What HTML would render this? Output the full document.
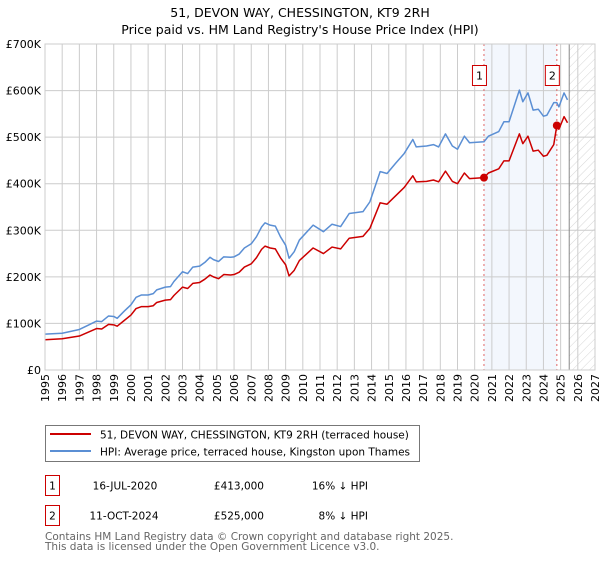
<!DOCTYPE html>
<html><head><meta charset="utf-8"><style>
body{margin:0;background:#fff;}
svg text{font-family:"DejaVu Sans","Liberation Sans",sans-serif;}
</style></head><body>
<svg id="chart" width="600" height="560" viewBox="0 0 600 560" xmlns="http://www.w3.org/2000/svg">
<defs>
<pattern id="hatch" width="6" height="6" patternUnits="userSpaceOnUse" patternTransform="rotate(45)">
<line x1="0" y1="0" x2="0" y2="6" stroke="#ccc" stroke-width="0.8"/>
</pattern>
</defs>
<text x="300" y="17" text-anchor="middle" font-size="12.5" fill="#000">51, DEVON WAY, CHESSINGTON, KT9 2RH</text>
<text x="300" y="34" text-anchor="middle" font-size="12.5" fill="#000">Price paid vs. HM Land Registry's House Price Index (HPI)</text>
<g id="plot"></g>
<g>
<rect x="45.5" y="425.5" width="374" height="36" fill="#fff" stroke="#777" stroke-width="1"/>
<line x1="50" y1="434" x2="91" y2="434" stroke="#cc0000" stroke-width="2"/>
<text x="100" y="438.5" font-size="10.5">51, DEVON WAY, CHESSINGTON, KT9 2RH (terraced house)</text>
<line x1="50" y1="451" x2="91" y2="451" stroke="#5b8fd4" stroke-width="2"/>
<text x="100" y="455.5" font-size="10.5">HPI: Average price, terraced house, Kingston upon Thames</text>
</g>
<g font-size="10.5">
<rect x="45.5" y="475.5" width="14" height="20" fill="#fff" stroke="#cc0000"/>
<text x="52.5" y="489.5" text-anchor="middle">1</text>
<text x="125" y="489.5" text-anchor="middle">16-JUL-2020</text>
<text x="264" y="489.5" text-anchor="end">£413,000</text>
<text x="368" y="489.5" text-anchor="end">16% ↓ HPI</text>
<rect x="45.5" y="505.5" width="14" height="20" fill="#fff" stroke="#cc0000"/>
<text x="52.5" y="519.5" text-anchor="middle">2</text>
<text x="124" y="519.5" text-anchor="middle">11-OCT-2024</text>
<text x="264" y="519.5" text-anchor="end">£525,000</text>
<text x="368" y="519.5" text-anchor="end">8% ↓ HPI</text>
</g>
<text x="45" y="540" font-size="10.5" fill="#666">Contains HM Land Registry data © Crown copyright and database right 2025.</text>
<text x="45" y="550" font-size="10.5" fill="#666">This data is licensed under the Open Government Licence v3.0.</text>
</svg>
<script>
const hpiYears=[1995.0,1996.0,1997.0,1997.5,1998.0,1998.3,1998.7,1999.0,1999.2,1999.6,2000.0,2000.3,2000.6,2001.0,2001.3,2001.5,2002.0,2002.3,2002.5,2003.0,2003.3,2003.6,2004.0,2004.3,2004.6,2004.8,2005.1,2005.4,2005.8,2006.0,2006.3,2006.6,2007.0,2007.3,2007.6,2007.8,2008.1,2008.4,2008.7,2009.0,2009.2,2009.5,2009.8,2010.6,2011.2,2011.7,2012.2,2012.7,2013.5,2013.9,2014.5,2014.9,2015.4,2015.9,2016.4,2016.6,2017.2,2017.6,2017.9,2018.3,2018.7,2019.0,2019.4,2019.7,2020.54,2020.8,2021.4,2021.7,2022.0,2022.6,2022.8,2023.1,2023.4,2023.7,2024.0,2024.2,2024.6,2024.78,2024.9,2025.2,2025.4];
const hpiValues=[77,79,87,96,105,104,116,115,111,126,140,156,161,161,164,172,178,179,190,211,207,221,223,231,242,237,233,243,242,243,249,262,271,286,307,316,311,309,286,268,240,254,279,311,297,313,308,336,340,361,426,422,444,465,495,479,481,484,479,507,481,474,502,488,490,502,512,533,533,601,576,595,558,560,545,547,574,574,565,595,580];
const priceValues=[65,67,73,81,89,88,98,97,94,106,118,132,136,136,138,145,150,151,160,178,175,186,188,195,204,200,196,205,204,205,210,221,228,241,259,266,262,260,241,226,202,214,235,262,250,264,260,283,287,304,359,356,374,392,417,404,405,408,404,427,405,400,423,411,413,423,432,449,449,507,486,502,470,472,459,461,484,525,517,544,531];
const saleYears=[2020.54,2024.78];
const saleValues=[413,525];
const saleLabels=["1","2"];
const yTicks=[0,100,200,300,400,500,600,700];
const yTickLabels=["£0","£100K","£200K","£300K","£400K","£500K","£600K","£700K"];
const xTicks=[1995,1996,1997,1998,1999,2000,2001,2002,2003,2004,2005,2006,2007,2008,2009,2010,2011,2012,2013,2014,2015,2016,2017,2018,2019,2020,2021,2022,2023,2024,2025,2026,2027];
const forecastStart=2025.5;

const X0=45,X1=595,Y0=370,Y1=44;
const xs=y=>X0+(y-1995)/(2027-1995)*(X1-X0);
const ys=v=>Y0-v/700*(Y0-Y1);
const NS="http://www.w3.org/2000/svg";
const plot=document.getElementById('plot');
function mk(tag,attrs,parent){const e=document.createElementNS(NS,tag);for(const k in attrs)e.setAttribute(k,attrs[k]);(parent||plot).appendChild(e);return e;}

const bg=mk('rect',{x:X0,y:Y1,width:X1-X0,height:Y0-Y1,fill:'#fff'});


const shade=mk('rect',{x:xs(saleYears[0]),y:Y1,width:xs(saleYears[1])-xs(saleYears[0]),height:Y0-Y1,fill:'#f3f7fd'});


const hatch=mk('rect',{x:xs(forecastStart),y:Y1,width:X1-xs(forecastStart),height:Y0-Y1,fill:'url(#hatch)'});



xTicks.forEach(t=>{
  const g=mk('line',{x1:xs(t),x2:xs(t),y1:Y1,y2:Y0,stroke:'#ccc','stroke-width':1});
  
  
  const tx=mk('text',{x:0,y:0,'font-size':11,'text-anchor':'end',transform:`translate(${xs(t)+4},${Y0+4}) rotate(-90)`});
  tx.textContent=t;
  
  
});
yTicks.forEach((t,i)=>{
  const g=mk('line',{x1:X0,x2:X1,y1:ys(t),y2:ys(t),stroke:'#ccc','stroke-width':1});
  
  
  const tx=mk('text',{x:41,y:ys(t)+4,'font-size':11,'text-anchor':'end'});
  tx.textContent=yTickLabels[i];
  
  
});
const fl=mk('line',{x1:xs(forecastStart),x2:xs(forecastStart),y1:Y1,y2:Y0,stroke:'#888','stroke-width':1});



saleYears.forEach((s,i)=>{
  const l=mk('line',{x1:xs(s),x2:xs(s),y1:Y1,y2:Y0,stroke:'#e06666','stroke-width':1,'stroke-dasharray':'2,3'});
  
  
  const b=mk('rect',{x:xs(s)-11.5,y:65.5,width:14,height:20,fill:'#fff',stroke:'#cc0000'});
  
  
  const t=mk('text',{x:xs(s)-4.5,y:79.5,'font-size':11,'text-anchor':'middle'});
  t.textContent=saleLabels[i];
  
  
});

const hp=mk('polyline',{points:hpiYears.map((y,i)=>xs(y)+','+ys(hpiValues[i])).join(' '),fill:'none',stroke:'#5b8fd4','stroke-width':1.5,'stroke-linejoin':'round'});


const pp=mk('polyline',{points:hpiYears.map((y,i)=>xs(y)+','+ys(priceValues[i])).join(' '),fill:'none',stroke:'#cc0000','stroke-width':1.5,'stroke-linejoin':'round'});


saleYears.forEach((s,i)=>{
  const c=mk('circle',{cx:xs(s),cy:ys(saleValues[i]),r:4,fill:'#cc0000'});
  
  
});
const frame=mk('rect',{x:X0,y:Y1,width:X1-X0,height:Y0-Y1,fill:'none',stroke:'#ccc','stroke-width':1});


</script>
</body></html>
